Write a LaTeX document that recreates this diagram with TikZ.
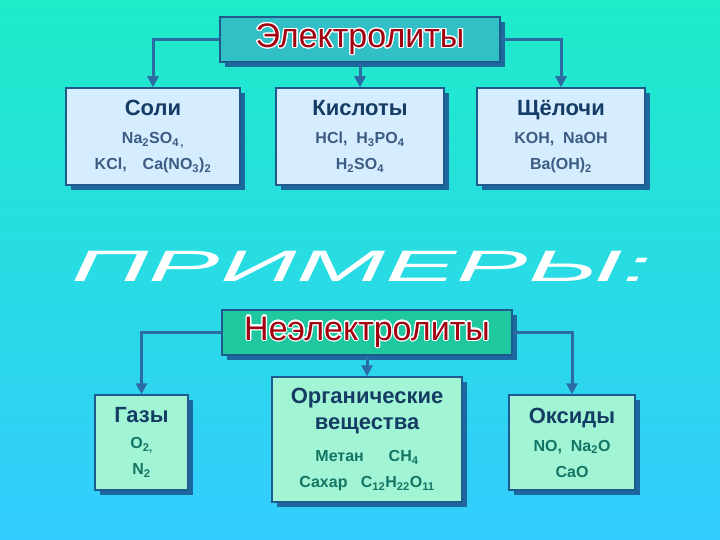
\documentclass[tikz,border=0pt]{standalone}
\usepackage{fontspec}
\setmainfont{Liberation Sans}
\usepackage{contour}
\usetikzlibrary{positioning}
\usetikzlibrary{shadows}
\usetikzlibrary{arrows.meta}

\definecolor{bgtop}{HTML}{1EEBC8}
\definecolor{bgmid}{HTML}{1EE0E0}
\definecolor{bgbot}{HTML}{33CCFF}
\definecolor{linkblue}{HTML}{2C6CA4}
\definecolor{edgeblue}{HTML}{1E5A8C}
\definecolor{shadeblue}{HTML}{1B5C98}
\definecolor{elfill}{HTML}{33BFC6}
\definecolor{nefill}{HTML}{20C8A0}
\definecolor{topfill}{HTML}{D6ECFF}
\definecolor{botfill}{HTML}{A2F5D4}
\definecolor{headnavy}{HTML}{143C64}
\definecolor{formtop}{HTML}{3C5C84}
\definecolor{formbot}{HTML}{137564}
\definecolor{titlered}{HTML}{A00010}

\newcommand{\chem}[1]{\textsubscript{#1}}
\contourlength{1.2pt}

\tikzset{
  titlebox/.style={draw=edgeblue, line width=1.5pt, minimum height=45pt,
    drop shadow={shadow xshift=5pt, shadow yshift=-5pt, fill=shadeblue, opacity=0.9},
    font=\fontsize{34}{34}\selectfont, text=titlered, inner sep=0pt},
  groupbox/.style={draw=edgeblue, line width=1.5pt, align=center, inner sep=0pt,
    font=\fontsize{16}{26}\selectfont\bfseries,
    drop shadow={shadow xshift=5pt, shadow yshift=-5pt, fill=shadeblue, opacity=0.9}},
  upper/.style={groupbox, fill=topfill, text=formtop, minimum height=97pt},
  lower/.style={groupbox, fill=botfill, text=formbot},
  link/.style={linkblue, line width=3pt, -{Triangle[length=11pt,width=11pt]}},
}
\newcommand{\head}[1]{{\fontsize{22}{27}\selectfont\color{headnavy}#1}}

\begin{document}
\begin{tikzpicture}[x=1pt, y=-1pt]

% background
\shade[top color=bgtop, middle color=bgmid, bottom color=bgbot] (0,0) rectangle (720,540);
\useasboundingbox (0,0) rectangle (720,540);

% electrolytes
\node[titlebox, fill=elfill, minimum width=280pt] (el) at (360,39.5) {\contour{white}{Электролиты}};

\node[upper, minimum width=174pt] (soli) at (153,136.5)
  {\head{Соли}\\[2pt]
   Na\chem{2}SO\chem{4\,,}\\
   KCl,\quad Ca(NO\chem{3})\chem{2}};
\node[upper, minimum width=168pt] (kisl) at (360,136.5)
  {\head{Кислоты}\\[2pt]
   HCl,\; H\chem{3}PO\chem{4}\\
   H\chem{2}SO\chem{4}};
\node[upper, minimum width=168pt] (shch) at (561,136.5)
  {\head{Щёлочи}\\[2pt]
   KOH,\; NaOH\\
   Ba(OH)\chem{2}};

\draw[link] (el.west) -| (soli.north);
\draw[link] (el.south -| kisl.north) -- (kisl.north);
\draw[link] (el.east) -| (shch.north);

% examples
\node[text=white, font=\fontsize{44}{44}\selectfont\itshape, xscale=2.43] (prim) at (362,266) {ПРИМЕРЫ:};

% non-electrolytes
\node[titlebox, fill=nefill, minimum width=290pt] (neel) at (367,332.5) {\contour{white}{Неэлектролиты}};

\node[lower, minimum width=93pt, minimum height=95pt] (gazy) at (141.5,442.5)
  {\head{Газы}\\[0pt]
   O\chem{2,}\\
   N\chem{2}};
\node[lower, minimum width=190pt, minimum height=125pt] (org) at (367,439.5)
  {\head{Органические}\\
   \head{вещества}\\[6pt]
   Метан\quad\; CH\chem{4}\\
   Сахар\;\; C\chem{12}H\chem{22}O\chem{11}};
\node[lower, minimum width=126pt, minimum height=95pt] (oks) at (572,442.5)
  {\head{Оксиды}\\[2pt]
   NO,\; Na\chem{2}O\\
   CaO};

\draw[link] (neel.west) -| (gazy.north);
\draw[link] (neel.south) -- (org.north);
\draw[link] (neel.east) -| (oks.north);

\end{tikzpicture}
\end{document}
